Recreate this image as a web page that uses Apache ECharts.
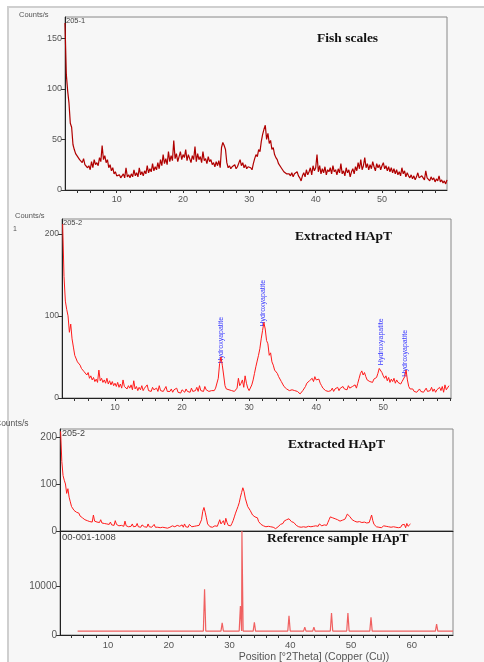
<!DOCTYPE html>
<html>
<head>
<meta charset="utf-8">
<script src="https://cdn.jsdelivr.net/npm/echarts@6/dist/echarts.min.js"></script>
<style>
  html, body { margin: 0; padding: 0; background: #fff; }
  #frame {
    position: absolute; left: 7px; top: 6px; width: 477px; height: 656px;
    background: #f7f7f7; border-left: 2px solid #cfcfcf; border-top: 2px solid #cfcfcf;
    box-sizing: border-box;
  }
  #chart { position: absolute; left: 0; top: 0; width: 484px; height: 662px; }
</style>
</head>
<body>
<div id="frame"></div>
<div id="chart"></div>
<script>
// scans, 2.2 deg onwards, one value every 0.2 deg
const scanStart = 2.2;
const scanStep = 0.2;

// 205-1  (Fish scales)
const fishScales = [
  165, 114, 98, 86, 66, 62, 45, 40, 36, 34,
  33, 30, 29, 27, 31, 25, 26, 22, 24, 20,
  28, 22, 30, 25, 27, 24, 32, 28, 44, 30,
  34, 27, 30, 22, 25, 19, 22, 16, 18, 14,
  13, 15, 12, 13, 16, 12, 22, 13, 15, 12,
  16, 13, 20, 14, 17, 13, 22, 15, 18, 14,
  19, 16, 24, 17, 21, 18, 26, 19, 23, 20,
  27, 21, 30, 24, 35, 26, 31, 25, 38, 28,
  34, 29, 49, 31, 36, 28, 33, 38, 30, 35,
  32, 40, 29, 35, 31, 27, 34, 30, 43, 28,
  36, 30, 33, 27, 38, 29, 31, 26, 33, 28,
  30, 25, 27, 23, 28, 24, 29, 22, 42, 47,
  44, 40, 27, 22, 24, 21, 23, 22, 25, 21,
  23, 22, 30, 24, 27, 22, 25, 21, 23, 22,
  22, 20, 26, 31, 35, 33, 40, 38, 48, 55,
  60, 64, 50, 56, 46, 49, 40, 42, 35, 32,
  30, 26, 27, 22, 20, 18, 17, 16, 15, 16,
  14, 17, 13, 16, 15, 18, 14, 12, 9, 14,
  17, 13, 20, 15, 18, 22, 15, 24, 19, 22,
  35, 18, 24, 16, 21, 17, 23, 15, 20, 18,
  22, 16, 24, 18, 20, 15, 21, 17, 26, 16,
  19, 14, 22, 17, 20, 13, 18, 21, 16, 23,
  19, 27, 21, 30, 20, 24, 32, 22, 26, 20,
  25, 21, 28, 23, 19, 26, 22, 25, 20, 24,
  27, 21, 24, 19, 23, 18, 22, 17, 21, 16,
  20, 15, 18, 14, 22, 16, 19, 13, 17, 14,
  12, 15, 11, 14, 10, 13, 17, 12, 11, 14,
  13, 10, 19, 12, 11, 9, 13, 10, 12, 8,
  11, 9, 14, 8, 10, 7, 9, 6, 10
];

// 205-2  (Extracted HApT)
const extracted = [
  212, 148, 118, 108, 100, 80, 90, 72, 62, 52,
  50, 44, 46, 40, 36, 38, 32, 30, 28, 31,
  24, 27, 22, 25, 20, 23, 19, 34, 21, 24,
  19, 22, 18, 24, 17, 21, 16, 20, 15, 18,
  14, 19, 13, 17, 12, 22, 14, 16, 11, 15,
  12, 16, 10, 21, 11, 14, 9, 13, 10, 15,
  9, 12, 10, 16, 9, 11, 8, 13, 10, 9,
  12, 8, 15, 9, 11, 8, 10, 14, 8, 10,
  8, 11, 7, 10, 8, 12, 7, 9, 6, 10,
  8, 7, 11, 8, 9, 7, 12, 8, 10, 9,
  13, 8, 15, 9, 11, 8, 14, 10, 9, 8,
  10, 9, 11, 9, 12, 14, 24, 42, 50, 40,
  28, 15, 11, 9, 10, 8, 9, 11, 8, 10,
  12, 24, 15, 18, 22, 13, 27, 18, 12, 9,
  11, 16, 22, 30, 38, 45, 52, 60, 72, 82,
  92, 84, 70, 66, 52, 55, 44, 40, 34, 32,
  30, 26, 28, 20, 17, 14, 12, 11, 10, 9,
  9, 10, 8, 9, 7, 8, 6, 5, 7, 9,
  11, 14, 18, 16, 21, 19, 24, 20, 26, 22,
  20, 23, 18, 15, 12, 10, 9, 11, 8, 10,
  9, 12, 8, 11, 10, 13, 9, 12, 10, 14,
  11, 13, 10, 15, 12, 11, 14, 13, 16, 12,
  18, 24, 30, 33, 28, 31, 26, 22, 24, 20,
  21, 19, 23, 22, 25, 30, 36, 38, 31, 27,
  24, 27, 21, 25, 19, 23, 20, 24, 18, 22,
  19, 21, 17, 20, 18, 26, 34, 22, 14, 11,
  9, 11, 8, 10, 7, 9, 11, 8, 10, 7,
  9, 12, 8, 10, 9, 13, 8, 11, 7, 10,
  8, 13, 9, 14, 7, 16, 10, 12, 15
];

// 00-001-1008 reference pattern
const refPos = [25.9, 28.8, 31.8, 32.05, 34.1, 39.8, 42.4, 43.9, 46.8, 49.5, 53.3, 64.1];
const refHeight = [9300, 2500, 5900, 21200, 2600, 3900, 1600, 1600, 4500, 4500, 3600, 2200];
const refBase = 800;
const refRange = [5, 66.8];

const peakNames = ['Hydroxyapatite', 'Hydroxyapatite', 'Hydroxyapatite', 'Hydroxyapatite'];
const peakAt = [[25.8, 42], [32.1, 87], [49.6, 40], [53.3, 26]];

const xLabels = [10, 20, 30, 40, 50];
const xLabelsRef = [10, 20, 30, 40, 50, 60];

function toPoints(values) {
  return values.map((v, i) => [Math.round((scanStart + i * scanStep) * 10) / 10, v]);
}

function refLine() {
  const half = 0.2;
  const pts = [[refRange[0], refBase]];
  refPos.forEach((p, i) => {
    pts.push([p - half, refBase], [p, refHeight[i]], [p + half, refBase]);
  });
  pts.push([refRange[1], refBase]);
  return pts;
}

function evenTicks(from, to) {
  const out = [];
  for (let t = from; t <= to; t += 2) out.push(t);
  return out;
}

function xAxis(grid, min, max, labels, ticks, fontSize, show) {
  return {
    gridIndex: grid, type: 'value', min: min, max: max,
    axisLine: { show: true, onZero: false, lineStyle: { color: '#222', width: 1 } },
    axisTick: { show: show, customValues: ticks, length: 3, lineStyle: { color: '#333' } },
    axisLabel: { show: show, customValues: labels, fontSize: fontSize, color: '#555', margin: 5, fontFamily: 'Liberation Sans' },
    splitLine: { show: false },
  };
}

function yAxis(grid, max, labels, fontSize) {
  return {
    gridIndex: grid, type: 'value', min: 0, max: max,
    axisLine: { show: true, onZero: false, lineStyle: { color: '#222', width: 1 } },
    axisTick: { show: true, customValues: labels, length: 4, lineStyle: { color: '#333' } },
    axisLabel: {
      customValues: labels, fontSize: fontSize, color: '#555', margin: 3, fontFamily: 'Liberation Sans',
      formatter: (v) => String(v),
    },
    splitLine: { show: false },
  };
}

function line(idx, data, color, width) {
  return {
    type: 'line', xAxisIndex: idx, yAxisIndex: idx, data: data,
    symbol: 'none', animation: false, silent: true,
    lineStyle: { color: color, width: width },
  };
}

function label(x, y, text, size, extra) {
  return {
    type: 'text', x: x, y: y, silent: true,
    style: Object.assign({ text: text, fontSize: size, fontFamily: 'Liberation Sans', fill: '#555', verticalAlign: 'middle' }, extra || {}),
  };
}

const titleFont = { fontFamily: 'Liberation Serif', fontWeight: 'bold', fill: '#111' };

const baseGraphics = [
  label(19, 15, 'Counts/s', 7.5),
  label(66, 21, '205-1', 7.5, { fill: '#444' }),
  label(317, 39, 'Fish scales', 13.5, titleFont),
  label(15, 216, 'Counts/s', 7.5),
  label(13, 229, '1', 7),
  label(63, 223, '205-2', 7.5, { fill: '#444' }),
  label(295, 237, 'Extracted HApT', 13.5, titleFont),
  label(-5, 424, 'Counts/s', 8.5),
  label(62, 434, '205-2', 9, { fill: '#444' }),
  label(288, 445, 'Extracted HApT', 13.5, titleFont),
  label(62, 537, '00-001-1008', 9.5, { fill: '#444' }),
  label(267, 539, 'Reference sample HApT', 13.5, titleFont),
  label(314, 657, 'Position [°2Theta] (Copper (Cu))', 10.5, { align: 'center' }),
];

const chart = echarts.init(document.getElementById('chart'));

const option = {
  animation: false,
  grid: [
    { left: 65, top: 17, width: 382, height: 173, show: true, borderColor: '#888', borderWidth: 1 },
    { left: 62, top: 219, width: 389, height: 179, show: true, borderColor: '#888', borderWidth: 1 },
    { left: 60, top: 429, width: 393, height: 102, show: true, borderColor: '#888', borderWidth: 1 },
    { left: 60, top: 531, width: 393, height: 104, show: true, borderColor: '#888', borderWidth: 1 },
  ],
  xAxis: [
    xAxis(0, 2.2, 59.8, xLabels, evenTicks(4, 58), 9, true),
    xAxis(1, 2.1, 60.1, xLabels, evenTicks(4, 60), 8.5, true),
    xAxis(2, 2.1, 66.8, [], [], 9, false),
    xAxis(3, 2.1, 66.8, xLabelsRef, evenTicks(4, 66), 9.5, true),
  ],
  yAxis: [
    yAxis(0, 171, [0, 50, 100, 150], 9),
    yAxis(1, 218, [0, 100, 200], 8.5),
    yAxis(2, 217, [0, 100, 200], 10),
    yAxis(3, 21200, [0, 10000], 10),
  ],
  series: [
    line(0, toPoints(fishScales), '#b00000', 1.2),
    line(1, toPoints(extracted), '#ff1a1a', 1),
    line(2, toPoints(extracted), '#ff1a1a', 1),
    line(3, refLine(), '#f06060', 1.2),
  ],
  graphic: baseGraphics,
};

chart.setOption(option);

// blue phase marks above the extracted peaks
const peakGraphics = peakAt.map((p, i) => {
  const px = chart.convertToPixel({ gridIndex: 1 }, p);
  return {
    type: 'text', x: px[0], y: px[1], rotation: Math.PI / 2, silent: true,
    style: { text: peakNames[i], fontSize: 7, fontFamily: 'Liberation Sans', fill: '#3a3aff', align: 'left', verticalAlign: 'middle' },
  };
});

chart.setOption({ graphic: baseGraphics.concat(peakGraphics) });
</script>
</body>
</html>
